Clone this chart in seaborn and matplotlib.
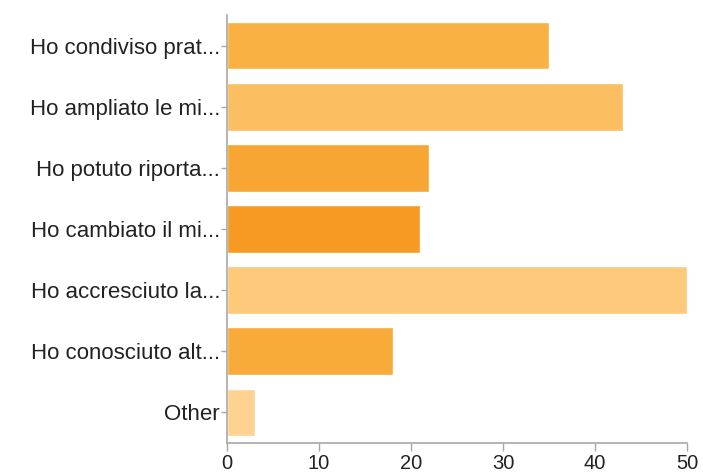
import matplotlib
matplotlib.use("Agg")
import matplotlib.pyplot as plt
import seaborn as sns
import pandas as pd

labels = ["Ho condiviso prat...", "Ho ampliato le mi...", "Ho potuto riporta...",
          "Ho cambiato il mi...", "Ho accresciuto la...", "Ho conosciuto alt...", "Other"]
values = [35, 43, 22, 21, 50, 18, 3]
colors = ["#FAB144", "#FBBE60", "#F8A633", "#F69A23", "#FDC97A", "#F9AB3A", "#FED291"]

sns.set_style("white")
plt.rcParams["font.family"] = ["Liberation Sans", "DejaVu Sans"]

df = pd.DataFrame({"label": labels, "value": values})

fig = plt.figure(figsize=(7.03, 4.72), dpi=100)
ax = fig.add_axes([227/703, 1 - 443/472, 460/703, 428/472])
sns.barplot(data=df, x="value", y="label", hue="label", palette=colors,
            legend=False, width=0.78, saturation=1, ax=ax)

ax.set_xlim(0, 50)
ax.set_ylim(6.5, -0.5)
ax.set_xticks([0, 10, 20, 30, 40, 50])
ax.set_xlabel("")
ax.set_ylabel("")
for s in ["top", "right"]:
    ax.spines[s].set_visible(False)
for s in ["left", "bottom"]:
    ax.spines[s].set_color("#a8a8a8")
    ax.spines[s].set_linewidth(1.2)
ax.tick_params(axis="y", left=True, length=4, width=1, color="#a8a8a8",
               labelsize=16, labelcolor="#222222", pad=1)
ax.tick_params(axis="x", bottom=True, length=6, width=1, color="#a8a8a8",
               labelsize=14.5, labelcolor="#222222", pad=2)

fig.savefig("out.png", dpi=100)
